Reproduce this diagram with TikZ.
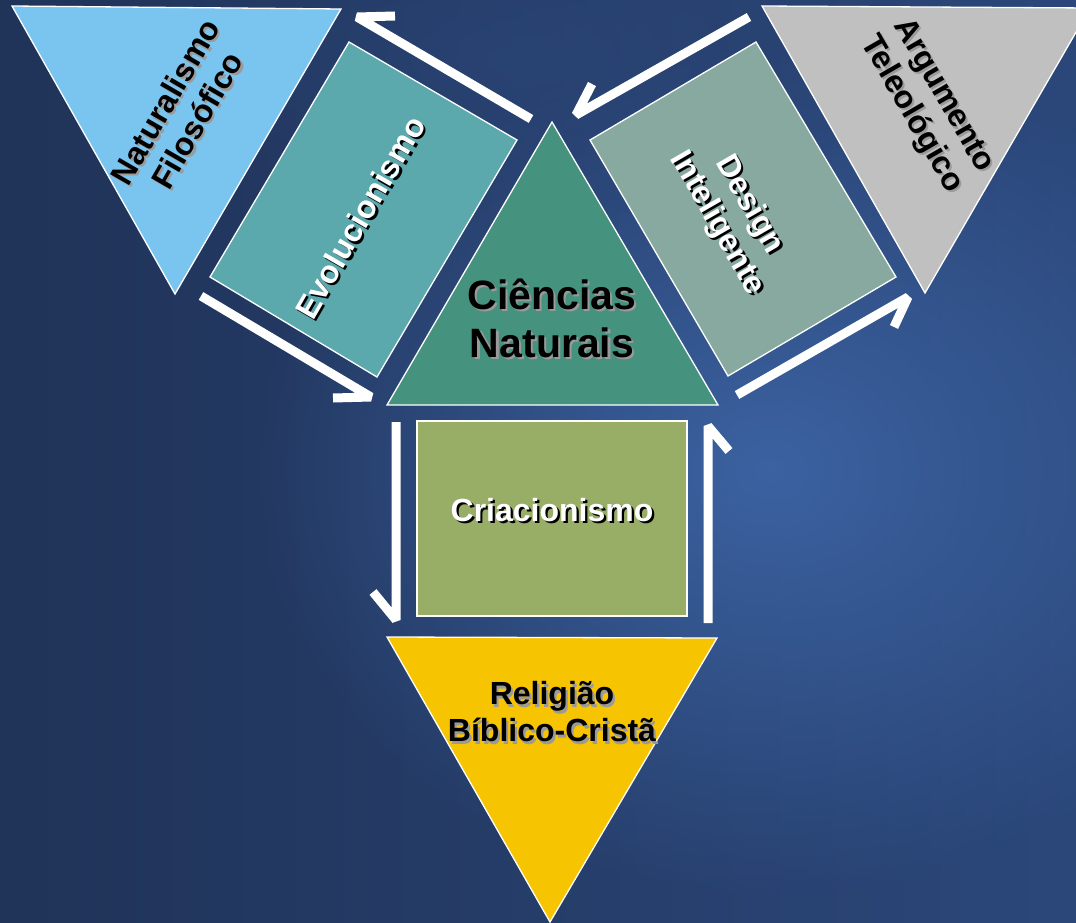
\documentclass[tikz,border=0pt]{standalone}
\usepackage{fontspec}
\setmainfont{Liberation Sans}
\usetikzlibrary{calc,fadings}
\tikzfading[name=glowfade, inner color=transparent!0, outer color=transparent!100]
\definecolor{bgdark}{HTML}{203358}
\definecolor{bgmid}{HTML}{2B477A}
\definecolor{bglight}{HTML}{3F68AA}
\definecolor{natblue}{HTML}{79C5EF}
\definecolor{evoteal}{HTML}{5BA8AD}
\definecolor{cngreen}{HTML}{45927F}
\definecolor{digray}{HTML}{87A9A0}
\definecolor{argray}{HTML}{C0C0C0}
\definecolor{crgreen}{HTML}{98AE67}
\definecolor{relyellow}{HTML}{F6C400}
\definecolor{shgray}{HTML}{9A9A9A}
\newcommand{\shadowlabel}[7]{%
  \node[lbl, rotate=#4, text=#6] at (#2+2.2,#3+2.2) {#7};
  \node[lbl, rotate=#4, text=#5] (#1) at (#2,#3) {#7};}
\begin{document}
\begin{tikzpicture}[x=1pt,y=-1pt,
  shapebox/.style={draw=white, line width=1.3pt, line join=miter},
  arrowline/.style={draw=white, line width=9pt, line join=bevel, line cap=butt},
  lbl/.style={font=\fontsize{32}{37}\selectfont\bfseries, align=center, inner sep=0pt},
  biglbl/.style={font=\fontsize{41}{48}\selectfont\bfseries, align=center, inner sep=0pt}]
\useasboundingbox (0,0) rectangle (1076,923);
\begin{scope}
\clip (0,0) rectangle (1076,923);
% background
\shade[left color=bgdark, right color=bgmid] (0,0) rectangle (1076,923);
\fill[bglight, path fading=glowfade, opacity=0.85] (770,470) ellipse (520 and 430);
\fill[bgmid, path fading=glowfade, opacity=0.6] (520,60) ellipse (380 and 160);

% shapes
\filldraw[shapebox, fill=natblue] (12,6) -- (341,9) -- (175,294) -- cycle;
\filldraw[shapebox, fill=evoteal] (349,42) -- (517,140) -- (377,377) -- (210,277) -- cycle;
\filldraw[shapebox, fill=cngreen] (552,122) -- (718,405) -- (387,405) -- cycle;
\filldraw[shapebox, fill=digray] (756,42) -- (896,277) -- (728,376) -- (590,140) -- cycle;
\filldraw[shapebox, fill=argray] (762,6) -- (1090,8) -- (925,293) -- cycle;
\filldraw[shapebox, fill=crgreen] (417,421) rectangle (687,616);
\filldraw[shapebox, fill=relyellow] (387,637) -- (717,638) -- (550,922) -- cycle;

% labels
\shadowlabel{nat}{181}{111}{60}{black}{shgray}{Naturalismo\\Filosófico}
\shadowlabel{evo}{360}{217}{60}{white}{black}{Evolucionismo}
\shadowlabel{di}{733}{214}{-60}{white}{black}{Design\\Inteligente}
\shadowlabel{arg}{927}{105}{-60}{black}{shgray}{Argumento\\Teleológico}
\node[biglbl, text=shgray] at (554.2,320.2) {Ciências\\Naturais};
\node[biglbl, text=black] (cn) at (552,318) {Ciências\\Naturais};
\shadowlabel{cr}{552}{510}{0}{white}{black}{Criacionismo}
\shadowlabel{rel}{552}{712}{0}{black}{shgray}{Religião\\Bíblico-Cristã}

% arrows
\coordinate (aS) at (531,119); \coordinate (aT) at (357,17); \coordinate (aB) at (395,16);
\coordinate (bS) at (201,296); \coordinate (bT) at (371,397); \coordinate (bB) at (333,398);
\coordinate (cS) at (749,17);  \coordinate (cT) at (576,115); \coordinate (cB) at (592,84);
\coordinate (dS) at (737,395); \coordinate (dT) at (908,297); \coordinate (dB) at (894,327);
\coordinate (eS) at (396,422); \coordinate (eT) at (396,620); \coordinate (eB) at (373,592);
\coordinate (fS) at (708,623); \coordinate (fT) at (708,426); \coordinate (fB) at (729,451);
\draw[arrowline] (aS) -- (aT) -- (aB);
\draw[arrowline] (bS) -- (bT) -- (bB);
\draw[arrowline] (cS) -- (cT) -- (cB);
\draw[arrowline] (dS) -- (dT) -- (dB);
\draw[arrowline] (eS) -- (eT) -- (eB);
\draw[arrowline] (fS) -- (fT) -- (fB);
\end{scope}
\end{tikzpicture}
\end{document}
